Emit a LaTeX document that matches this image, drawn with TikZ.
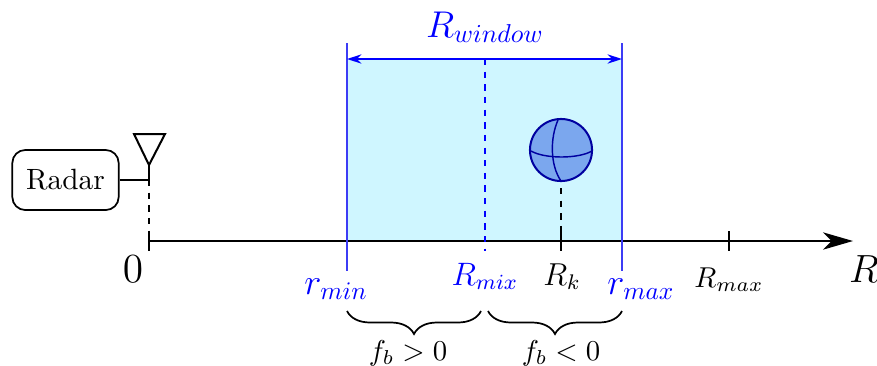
\documentclass[tikz,border=0pt]{standalone}
\usetikzlibrary{arrows.meta,decorations.pathreplacing}
\definecolor{winfill}{HTML}{CFF6FF}
\definecolor{ballfill}{HTML}{7BA7EE}
\definecolor{ballline}{HTML}{0000A0}
\definecolor{winblue}{HTML}{3C3CF5}
\tikzset{
  ln/.style={line width=0.7pt,black},
  bl/.style={line width=0.6pt,winblue},
  dsh/.style={line width=0.7pt,dash pattern=on 2.2pt off 2.2pt},
  blab/.style={text=blue,inner sep=0pt,anchor=base},
  klab/.style={inner sep=0pt,anchor=base},
  brc/.style={line width=0.6pt,decorate,decoration={brace,mirror,amplitude=8pt}},
}
\begin{document}
\begin{tikzpicture}[x=0.348pt,y=-0.348pt]
\useasboundingbox (0,0) rectangle (877,365);
\coordinate (O) at (149,241);
\coordinate (End) at (853,241);
\coordinate (LT) at (347,43); \coordinate (LB) at (347,271);
\coordinate (RT) at (622,43); \coordinate (RB) at (622,271);
\coordinate (AL) at (347,59); \coordinate (AR) at (622,59);
\coordinate (MT) at (485,59); \coordinate (MB) at (485,251);
\fill[winfill] (347,59) rectangle (622,241);
% axis
\draw[ln,-{Stealth[length=10.4pt,width=6pt,inset=3pt]}] (O) -- (End);
\draw[ln] (149,231) -- (149,251);
\draw[ln] (561,231) -- (561,251);
\draw[ln] (729,231) -- (729,251);
% window
\draw[bl] (LT) -- (LB);
\draw[bl] (RT) -- (RB);
\draw[line width=0.7pt,blue,{Stealth[length=5pt,width=3.2pt]}-{Stealth[length=5pt,width=3.2pt]}] (AL) -- (AR);
\draw[dsh,blue] (MT) -- (MB);
% radar
\node[draw,line width=0.6pt,rounded corners=4.5pt,minimum width=37pt,minimum height=20.9pt,inner sep=0pt] (radar) at (65.5,180) {\scalebox{1.02}{Radar}};
\coordinate (J) at (149,180);
\coordinate (AT) at (149,165);
\draw[ln] (radar.east) -- (J);
\draw[ln] (AT) -- (J);
\draw[dsh] (J) -- (O);
\draw[ln,line join=miter] (134,134) -- (165,134) -- (AT) -- cycle;
% ball
\node[circle,draw=ballline,fill=ballfill,line width=0.7pt,minimum size=21.6pt,inner sep=0pt] (ball) at (561,150) {};
\draw[ballline,line width=0.5pt] (531,151) .. controls (545,159) and (578,159) .. (592,151);
\draw[ballline,line width=0.5pt] (558,120) .. controls (550,138) and (550,165) .. (561,181);
\coordinate (K) at (561,231);
\draw[dsh] (ball.south) ++(0,6) -- (K);
% labels
\node[blab,scale=0.9] (rw) at (485,37) {\Large $R_{window}$};
\node[klab] (zero) at (133,282) {\Large $0$};
\node[blab,scale=0.88] (rmin) at (336,294) {\Large $r_{min}$};
\node[blab,scale=0.94] (rmix) at (485,285) {\large $R_{mix}$};
\node[klab] (rk) at (562,285) {\large\scalebox{0.92}{$R_k$}};
\node[blab,scale=0.88] (rmax) at (641,294) {\Large $r_{max}$};
\node[klab] (rmaxl) at (729,287) {$R_{max}$};
\node[klab,scale=0.95] (rr) at (864,282) {\Large $R$};
% braces
\draw[brc] (347,311) coordinate (b1) -- (481,311) coordinate (b2);
\draw[brc] (488,311) coordinate (b3) -- (622,311) coordinate (b4);
\node[klab] (fp) at (408,360) {$f_b>0$};
\node[klab] (fn) at (561,360) {$f_b<0$};
\end{tikzpicture}
\end{document}
